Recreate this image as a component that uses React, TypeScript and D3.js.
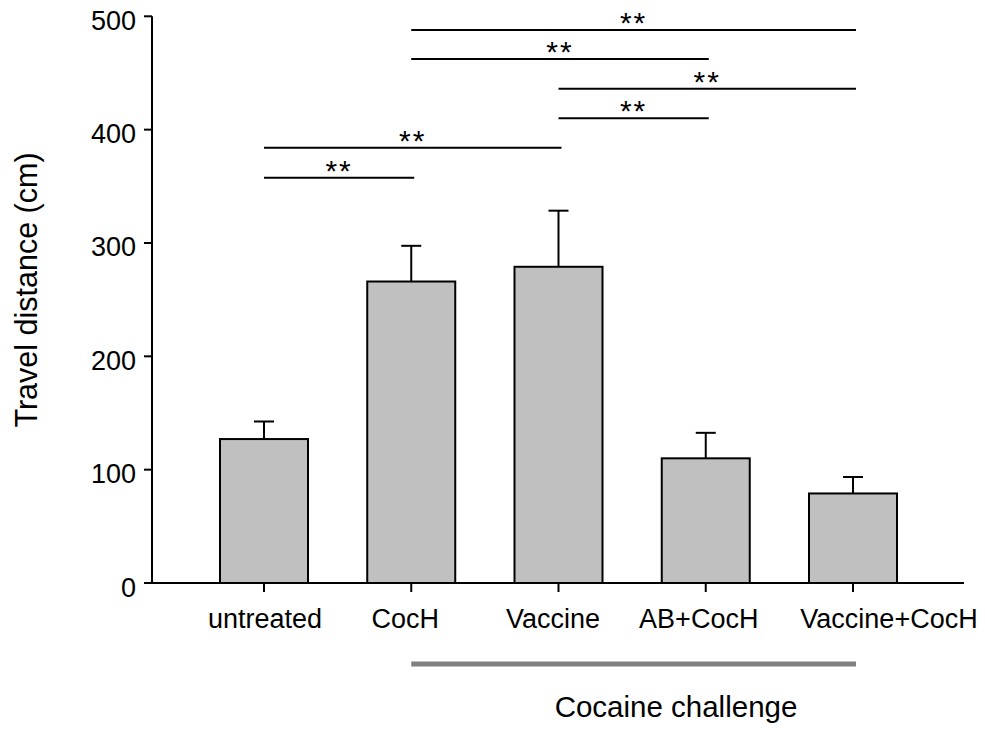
import React from "react";
import * as d3 from "d3";

const categories = ["untreated", "CocH", "Vaccine", "AB+CocH", "Vaccine+CocH"];
const means = [127, 266, 279, 110, 79];
const errTops = [142.5, 297.5, 328.5, 132.5, 93.5];
const yTicks = [0, 100, 200, 300, 400, 500];
// significance comparisons: [from index, to index, height in data units, label]
const compFrom = [1, 1, 2, 2, 0, 0];
const compTo = [4, 3, 4, 3, 2, 1];
const compLevel = [488, 462.4, 436, 410, 384, 357.5];
const compLabel = ["**", "**", "**", "**", "**", "**"];
const groupFrom = "CocH";
const groupTo = "Vaccine+CocH";
const groupLabel = "Cocaine challenge";
const yTitle = "Travel distance (cm)";
// horizontal nudge of category labels (layout, px)
const labelShift = [1, -6, -5.5, -7, 36];

const W = 985;
const H = 733;
const FONT = "'Liberation Sans', Arial, Helvetica, sans-serif";

export default function App() {
  const y = d3.scaleLinear().domain([0, 500]).range([583, 16.3]);
  const x = d3
    .scaleBand<string>()
    .domain(categories)
    .range([220, 897])
    .paddingInner(0.4024)
    .paddingOuter(0);
  const bw = x.bandwidth();
  const cx = (c: string) => (x(c) as number) + bw / 2;
  const axisX = 152;
  const sw = 2;
  const ext = 3;

  return (
    <div style={{ position: "fixed", left: 0, top: 0, background: "#fff" }}>
      <svg width={W} height={H} style={{ display: "block" }} fontFamily={FONT}>
        <rect x={0} y={0} width={W} height={H} fill="#fff" />
        {/* bars */}
        {categories.map((c, i) => (
          <g key={c}>
            <line x1={cx(c)} x2={cx(c)} y1={y(means[i])} y2={y(errTops[i])} stroke="#000" strokeWidth={sw} />
            <line x1={cx(c) - 10} x2={cx(c) + 10} y1={y(errTops[i])} y2={y(errTops[i])} stroke="#000" strokeWidth={sw} />
            <rect
              x={x(c)}
              y={y(means[i])}
              width={bw}
              height={y(0) - y(means[i])}
              fill="#c0c0c0"
              stroke="#000"
              strokeWidth={sw}
            />
          </g>
        ))}
        {/* y axis */}
        <line x1={axisX} x2={axisX} y1={y(0)} y2={y(500)} stroke="#000" strokeWidth={sw} />
        {yTicks.map((t) => (
          <g key={t}>
            <line x1={axisX - 8} x2={axisX} y1={y(t)} y2={y(t)} stroke="#000" strokeWidth={sw} />
            <text x={136} y={y(t) + 13.5} textAnchor="end" fontSize={27} fill="#000">
              {t}
            </text>
          </g>
        ))}
        {/* x axis */}
        <line x1={axisX - 8} x2={964} y1={y(0)} y2={y(0)} stroke="#000" strokeWidth={sw} />
        {categories.map((c, i) => (
          <g key={c}>
            <line x1={cx(c)} x2={cx(c)} y1={y(0)} y2={y(0) + 9} stroke="#000" strokeWidth={sw} />
            <text x={cx(c) + labelShift[i]} y={628} textAnchor="middle" fontSize={27} fill="#000">
              {c}
            </text>
          </g>
        ))}
        {/* significance */}
        {compFrom.map((f, i) => {
          const a = cx(categories[f]);
          const b = cx(categories[compTo[i]]) + ext;
          const ly = y(compLevel[i]);
          return (
            <g key={i}>
              <line x1={a} x2={b} y1={ly} y2={ly} stroke="#000" strokeWidth={sw} />
              <text x={(a + b) / 2} y={ly + 3} textAnchor="middle" fontSize={30} fill="#000" letterSpacing={2}>
                {compLabel[i]}
              </text>
            </g>
          );
        })}
        {/* group bar */}
        <line x1={cx(groupFrom)} x2={cx(groupTo) + ext} y1={664} y2={664} stroke="#808080" strokeWidth={5} />
        <text x={676} y={717} textAnchor="middle" fontSize={29.5} fill="#000">
          {groupLabel}
        </text>
        {/* y title */}
        <text transform={`translate(37,290) rotate(-90)`} textAnchor="middle" fontSize={30.5} fill="#000">
          {yTitle}
        </text>
      </svg>
    </div>
  );
}
